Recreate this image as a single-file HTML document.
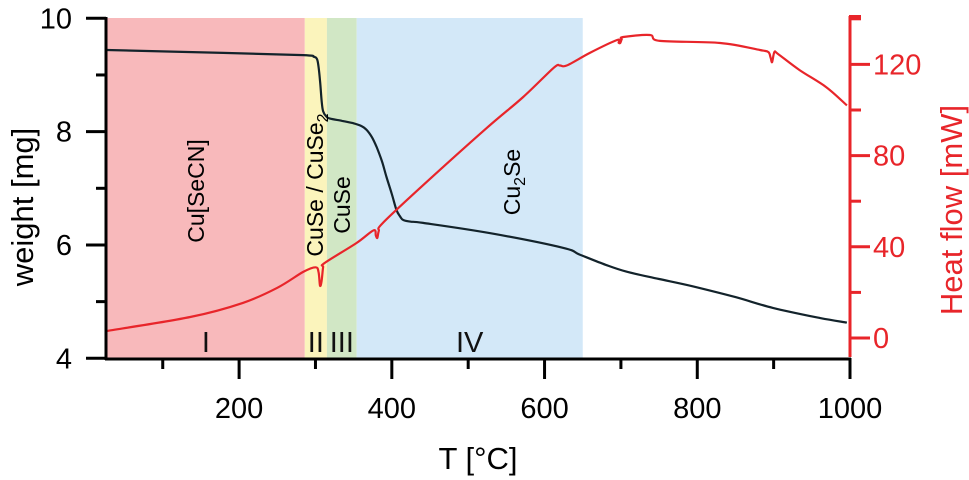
<!DOCTYPE html>
<html><head><meta charset="utf-8"><style>
body{margin:0;background:#fff;}
svg{display:block;font-family:"Liberation Sans",Arial,sans-serif;}
</style></head><body>
<svg id="chart" width="969" height="480" viewBox="0 0 969 480">
<g id="bands"></g>
<g id="series"></g>
<g id="axes"></g>
<g id="labels">
<text x="478" y="469" font-size="31" text-anchor="middle">T [°C]</text>
<text transform="translate(33,207) rotate(-90)" font-size="31" text-anchor="middle">weight [mg]</text>
<text transform="translate(962,210) rotate(-90)" font-size="31" text-anchor="middle" fill="#e8252a">Heat flow [mW]</text>
<text transform="translate(204,191) rotate(-90)" font-size="23" text-anchor="middle">Cu[SeCN]</text>
<text transform="translate(323,185) rotate(-90)" font-size="23" text-anchor="middle">CuSe / CuSe<tspan font-size="16" dy="5">2</tspan></text>
<text transform="translate(350,205) rotate(-90)" font-size="23" text-anchor="middle">CuSe</text>
<text transform="translate(520,182) rotate(-90)" font-size="23" text-anchor="middle">Cu<tspan font-size="16" dy="5">2</tspan><tspan dy="-5">Se</tspan></text>
</g>
</svg>
<script>
const tempW = [27,179,284,298,302,304,306,308,310,314,319,335,349,360,367,374,380,387,393,400,406,411,415,425,441,528,624,646,680,707,750,794,850,899,961,996];
const weight = [9.44,9.39,9.35,9.32,9.28,9.15,8.90,8.55,8.36,8.27,8.23,8.19,8.15,8.10,8.03,7.90,7.73,7.48,7.20,6.90,6.62,6.50,6.44,6.41,6.39,6.21,5.95,5.83,5.65,5.53,5.40,5.27,5.08,4.89,4.71,4.63];
const tempH = [27,136,205,250,284,300,304,306,308,310,312,354,376,379,381,383,388,441,524,572,612,620,629,659,695,697,699,701,703,738,751,830,882,893,896,898,901,906,934,969,996];
const heat = [3.1,9.2,15.4,22,29,31,29,23,25,31,32.9,41.7,47.2,45,43.9,47,50.4,67,92,105.7,118.5,119.5,119.5,125,130.7,129.5,129.4,131,132,132.9,130.3,129.4,126.3,125.4,123,121,125.4,124.5,117.5,110,102];
const bandEdges = [27,286,315,354,650];
const bandColors = ['#f8b9bb','#fbf4bc','#d1e7c5','#d3e8f8'];
const romanLabels = ['I','II','III','IV'];
const xTicks = [200,400,600,800,1000];
const xMinor = [100,300,500,700,900];
const yTicks = [4,6,8,10];
const yMinor = [5,7,9];
const hTicks = [0,40,80,120];
const hMinor = [20,60,100,140];

const NS='http://www.w3.org/2000/svg';
const X0=107,X1=850,TMIN=27,TMAX=1000;
const xs=t=>X0+(t-TMIN)/(TMAX-TMIN)*(X1-X0);
const yW=w=>358.3-(w-4)/6*340;
const yH=h=>338-h/40*91.2;
function mk(tag,attrs,parent){const e=document.createElementNS(NS,tag);for(const k in attrs)e.setAttribute(k,attrs[k]);const p=document.getElementById(parent);p.insertBefore(e,parent==='labels'?p.firstChild:null);return e;}
function smooth(pts){let d='M'+pts[0][0].toFixed(1)+','+pts[0][1].toFixed(1);
  for(let i=0;i<pts.length-1;i++){const p0=pts[i-1]||pts[i],p1=pts[i],p2=pts[i+1],p3=pts[i+2]||p2;
    const c1=[p1[0]+(p2[0]-p0[0])/6,p1[1]+(p2[1]-p0[1])/6],c2=[p2[0]-(p3[0]-p1[0])/6,p2[1]-(p3[1]-p1[1])/6];
    d+='C'+c1.map(v=>v.toFixed(1)).join(',')+' '+c2.map(v=>v.toFixed(1)).join(',')+' '+p2.map(v=>v.toFixed(1)).join(',');}
  return d;}

for(let i=0;i<bandColors.length;i++){
  const r=mk('rect',{x:xs(bandEdges[i]),y:18,width:xs(bandEdges[i+1])-xs(bandEdges[i]),height:340.3,fill:bandColors[i]},'bands');
  
  
  const t=mk('text',{x:(xs(bandEdges[i])+xs(bandEdges[i+1]))/2,y:352,'font-size':29,'text-anchor':'middle',fill:'#111'},'bands');
  t.textContent=romanLabels[i];
  
  
}
const pw=mk('path',{d:smooth(tempW.map((t,i)=>[xs(t),yW(weight[i])])),fill:'none',stroke:'#13232b','stroke-width':2.2,'stroke-linejoin':'round'},'series');


const ph=mk('path',{d:smooth(tempH.map((t,i)=>[xs(t),yH(heat[i])])),fill:'none',stroke:'#e8252a','stroke-width':2.2,'stroke-linejoin':'round'},'series');



const al=mk('line',{x1:106,y1:17,x2:106,y2:360,stroke:'#000','stroke-width':3},'axes');

const ax=mk('line',{x1:105,y1:359,x2:851,y2:359,stroke:'#000','stroke-width':3},'axes');

const ar=mk('line',{x1:850,y1:16,x2:850,y2:357,stroke:'#e8252a','stroke-width':3},'axes');

mk('line',{x1:849,y1:16.5,x2:861,y2:16.5,stroke:'#e8252a','stroke-width':3},'axes');
xTicks.forEach(v=>{mk('line',{x1:xs(v),y1:358,x2:xs(v),y2:379,stroke:'#000','stroke-width':3},'axes');
  const t=mk('text',{x:xs(v),y:418,'font-size':29,'text-anchor':'middle'},'axes');t.textContent=v;
  
  });
xMinor.forEach(v=>mk('line',{x1:xs(v),y1:358,x2:xs(v),y2:369,stroke:'#000','stroke-width':3},'axes'));
yTicks.forEach(v=>{mk('line',{x1:86,y1:yW(v),x2:106,y2:yW(v),stroke:'#000','stroke-width':3},'axes');
  const t=mk('text',{x:72,y:yW(v)+10,'font-size':29,'text-anchor':'end'},'axes');t.textContent=v;
  
  });
yMinor.forEach(v=>mk('line',{x1:96,y1:yW(v),x2:106,y2:yW(v),stroke:'#000','stroke-width':3},'axes'));
hTicks.forEach(v=>{mk('line',{x1:850,y1:yH(v),x2:870,y2:yH(v),stroke:'#e8252a','stroke-width':3},'axes');
  const t=mk('text',{x:873,y:yH(v)+10,'font-size':29,fill:'#e8252a'},'axes');t.textContent=v;
  
  });
hMinor.forEach(v=>{if(yH(v)>16)mk('line',{x1:850,y1:yH(v),x2:861,y2:yH(v),stroke:'#e8252a','stroke-width':3},'axes');});
</script>
</body></html>
